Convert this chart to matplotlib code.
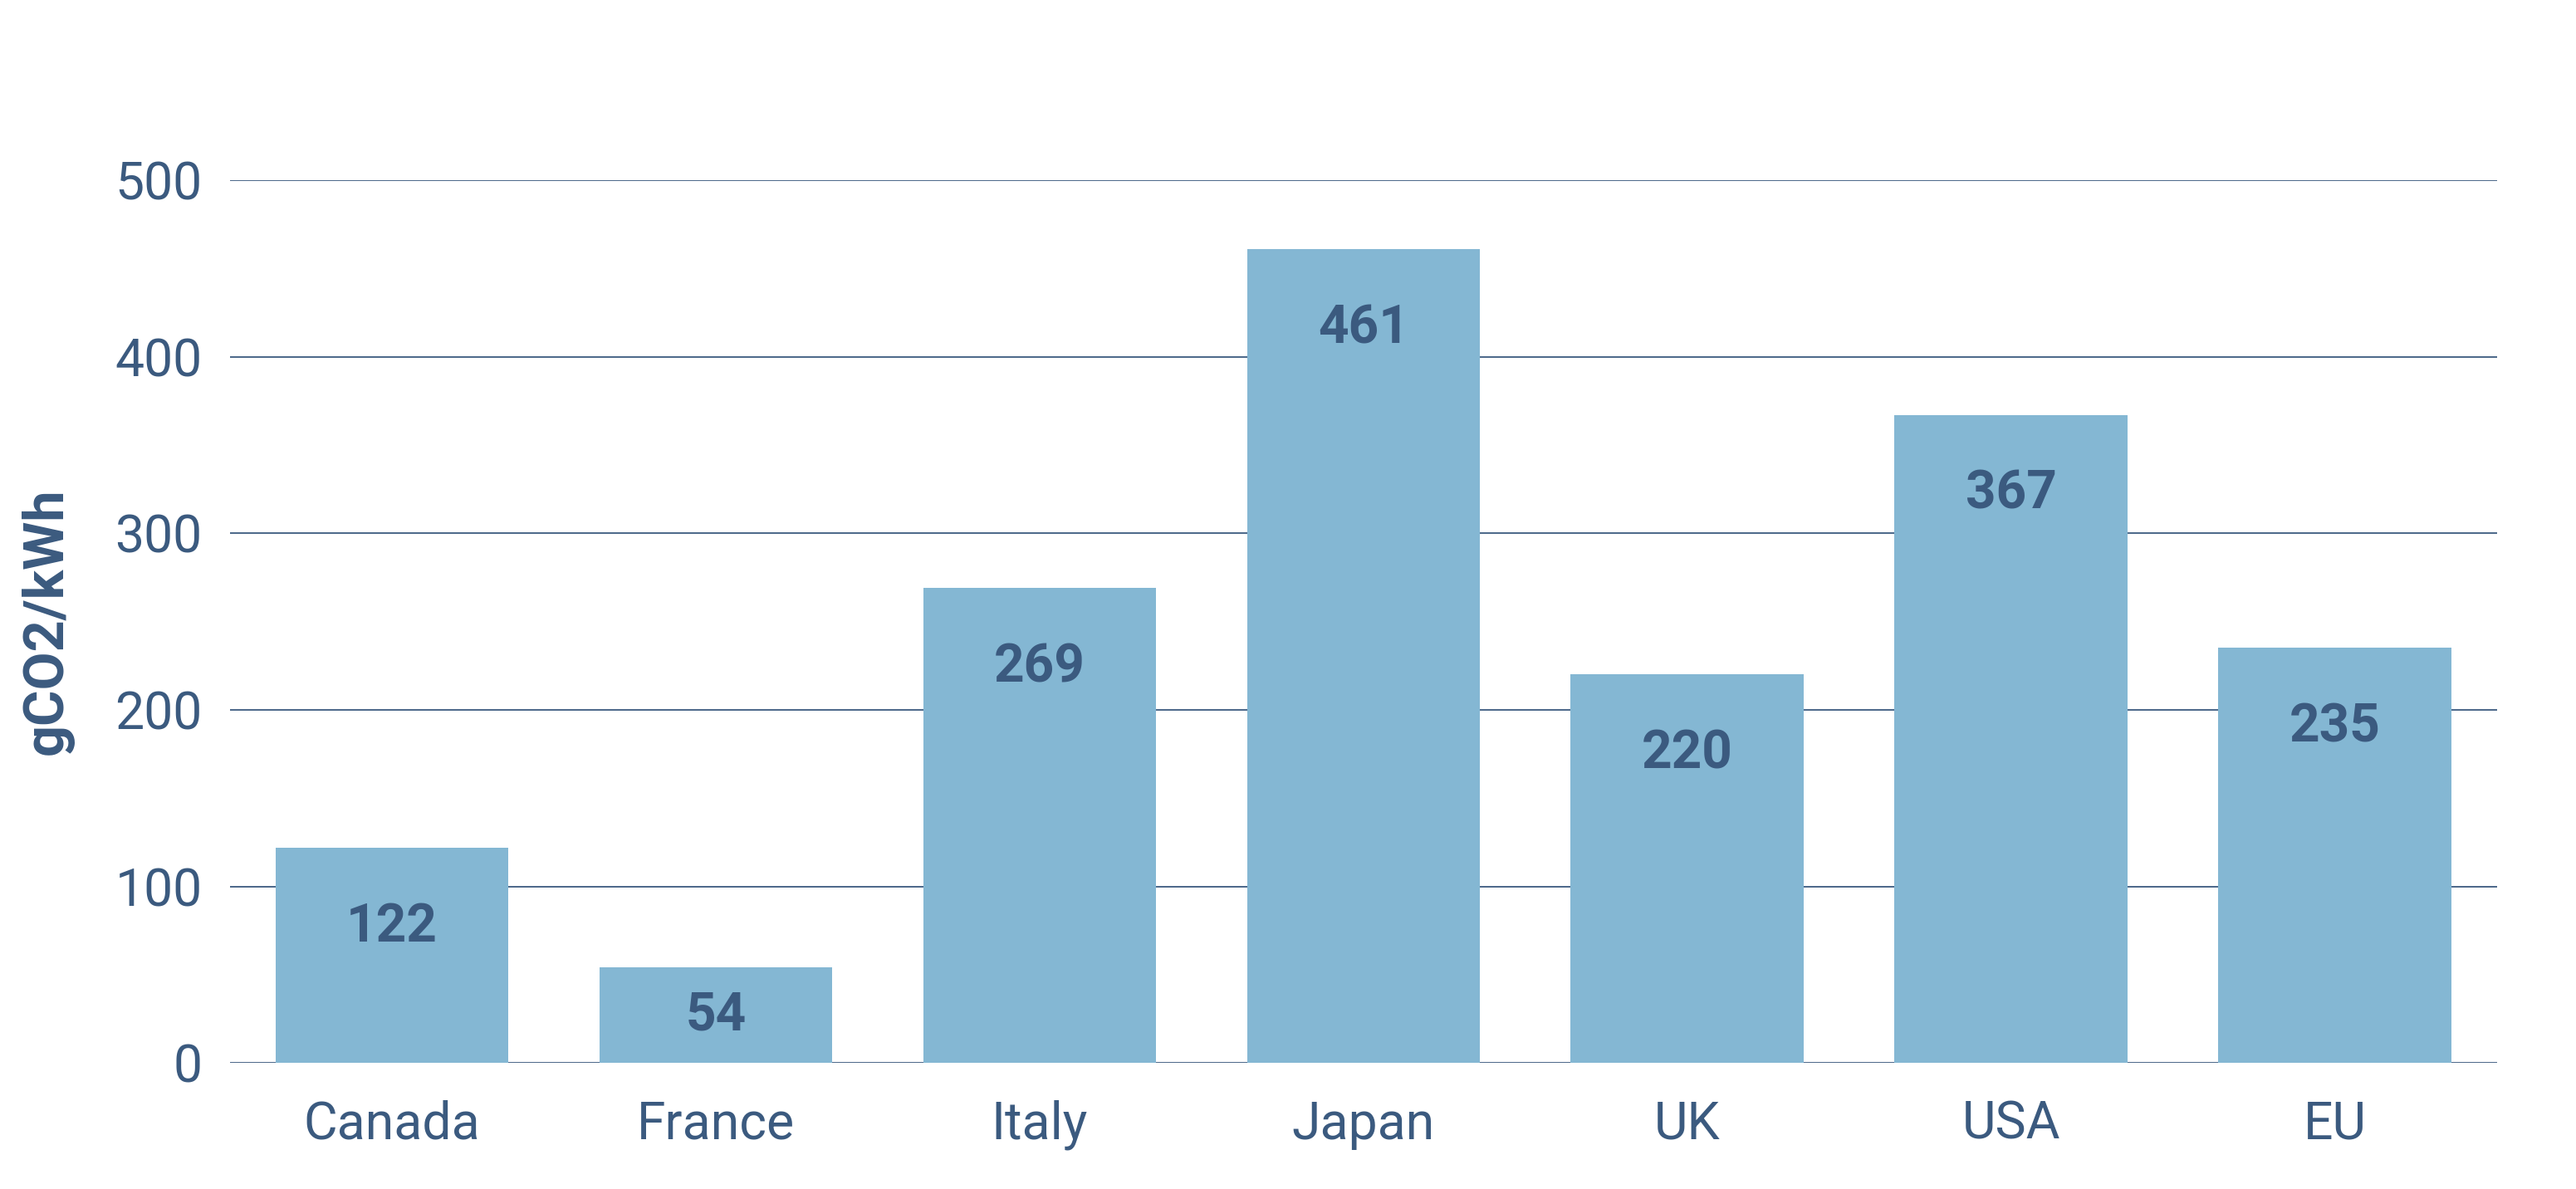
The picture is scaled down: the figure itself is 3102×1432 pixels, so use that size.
import matplotlib.pyplot as plt

countries = ["Canada", "France", "Italy", "Japan", "UK", "USA", "EU"]
intensity = [122, 54, 269, 461, 220, 367, 235]
yticks = [0, 100, 200, 300, 400, 500]

BAR = "#84b7d3"
INK = "#3b5a7f"

plt.rcParams["font.family"] = ["Roboto", "DejaVu Sans"]

fig = plt.figure(figsize=(31.02, 14.32), dpi=100)
ax = fig.add_axes([0.0893, 0.106, 0.88, 0.7425])

x = range(len(countries))
ax.bar(x, intensity, width=0.72, color=BAR, zorder=3)

# value labels sit a fixed distance below the bar top, but never below mid-bar
for i, v in zip(x, intensity):
    ax.text(i, max(v - 45, v / 2), str(v), ha="center", va="center",
            fontsize=46, fontweight="bold", color=INK, zorder=4)

ax.set_xlim(-0.5, len(countries) - 0.5)
ax.set_ylim(0, 500)
ax.set_yticks(yticks)
ax.set_xticks(list(x))
ax.set_xticklabels(countries)

ax.yaxis.grid(True, color=INK, linewidth=1.3, zorder=0)
ax.set_axisbelow(True)
for s in ax.spines.values():
    s.set_visible(False)
ax.tick_params(axis="both", length=0, labelsize=45, labelcolor=INK)
ax.tick_params(axis="y", pad=24)
ax.tick_params(axis="x", pad=32)

ax.set_ylabel("gCO2/kWh", fontsize=48, fontweight="bold", color=INK, labelpad=36)

fig.savefig("out.png", dpi=100, facecolor="white")
